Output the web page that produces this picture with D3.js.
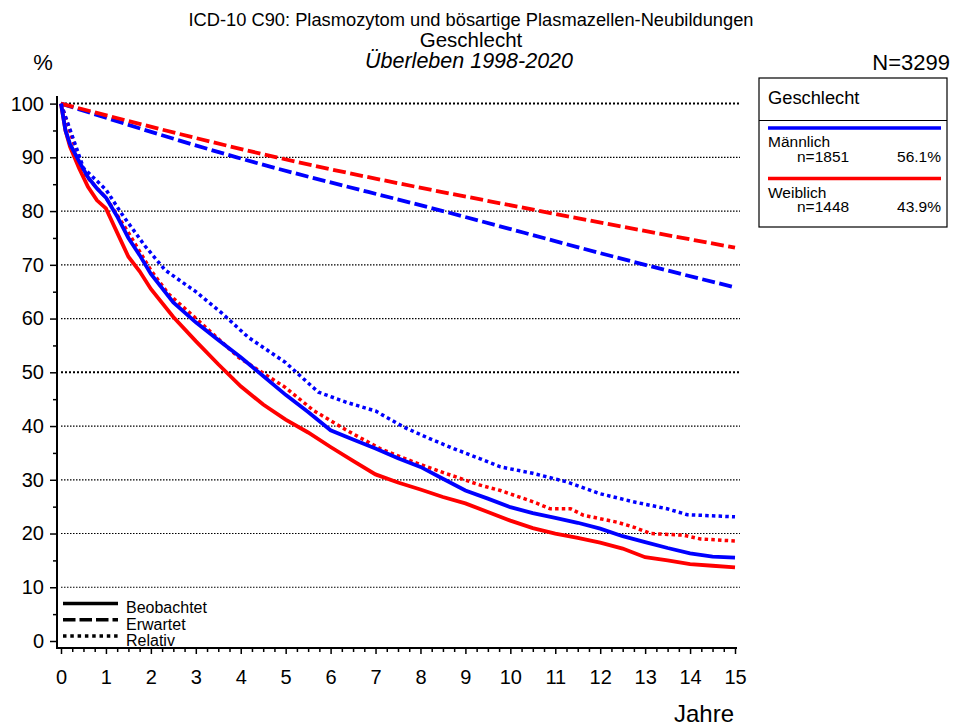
<!DOCTYPE html>
<html>
<head>
<meta charset="utf-8">
<script src="https://cdn.jsdelivr.net/npm/d3@7"></script>
<style>
  body { margin: 0; background: #fff; }
  svg { font-family: "Liberation Sans", Arial, sans-serif; }
</style>
</head>
<body>
<div id="chart"></div>
<script>
// data (years, percent)
var maleObserved = [[0,100],[0.1,95],[0.2,92.5],[0.4,89.3],[0.6,86.3],[0.8,84.2],[1,82.5],[1.25,79],[1.5,75],[1.75,71.8],[2,68.3],[2.5,63],[3,59.3],[3.5,56],[4,52.8],[4.5,49.3],[5,45.8],[5.5,42.6],[6,39.2],[6.5,37.5],[7,35.8],[7.5,34],[8,32.4],[8.5,30.2],[9,28],[9.5,26.5],[10,24.9],[10.5,23.8],[11,22.9],[11.5,22],[12,20.9],[12.5,19.5],[13,18.4],[13.5,17.3],[14,16.3],[14.5,15.7],[15,15.5]];
var femaleObserved = [[0,100],[0.1,95],[0.2,92],[0.4,88],[0.6,84.5],[0.8,82],[1,80.5],[1.25,76],[1.5,71.5],[1.75,68.8],[2,65.5],[2.5,60.3],[3,55.8],[3.5,51.5],[4,47.4],[4.5,44],[5,41.2],[5.5,38.8],[6,36.1],[6.5,33.5],[7,31],[7.5,29.5],[8,28.2],[8.5,26.8],[9,25.6],[9.5,24],[10,22.4],[10.5,21],[11,20],[11.5,19.2],[12,18.3],[12.5,17.2],[13,15.6],[13.5,15],[14,14.3],[14.5,14],[15,13.7]];
var maleExpected = [[0,100],[3.91,90],[8.5,80],[13,70],[15,65.8]];
var femaleExpected = [[0,100],[4.8,90],[10.67,80],[15,73.2]];
var maleRelative = [[0,100],[0.5,88],[1,84],[1.35,79.5],[1.87,73.5],[2.32,69],[3,65],[3.58,61],[4.17,56.5],[5,51.8],[5.5,48],[5.73,46.3],[6.36,44.4],[7,42.8],[7.63,39.8],[8.22,37.6],[8.74,35.8],[9.33,33.9],[9.78,32.4],[10.5,31.2],[11.26,29.6],[12,27.4],[12.74,25.9],[13.49,24.6],[13.94,23.5],[15,23.1]];
var femaleRelative = [[0,100],[0.5,87],[1,82.5],[1.5,76],[2,69],[2.39,64.6],[2.98,60.2],[3.95,52.8],[4.99,47.2],[5.62,42.9],[6.36,39.2],[7.1,35.8],[7.85,33.3],[8.59,31.1],[9.33,29],[9.78,28],[10.51,25.9],[10.89,24.6],[11.34,24.6],[11.63,23.4],[12.38,22.1],[12.74,21.2],[13.12,20],[13.85,19.7],[14.23,19],[15,18.6]];

var groups = ["Männlich", "Weiblich"];
var groupN = ["n=1851", "n=1448"];
var groupPct = ["56.1%", "43.9%"];
var xTicks = d3.range(0, 16);
var yTicks = [0, 10, 20, 30, 40, 50, 60, 70, 80, 90, 100];
var gridTicks = [10, 20, 30, 40, 50, 60, 70, 80, 90, 100];
var lineTypes = ["Beobachtet", "Erwartet", "Relativ"];

var color = d3.scaleOrdinal().domain(groups).range(["#0000ff", "#ff0000"]);
var dashes = {solid: null, dashed: "13,4.5", dotted: "3.5,3.2"};

var svg = d3.select("#chart").append("svg").attr("width", 953).attr("height", 728);

var x = d3.scaleLinear().domain([0, 15]).range([61, 735]);
var y = d3.scaleLinear().domain([0, 100]).range([641, 103.6]);

// titles
svg.append("text").attr("x", 471).attr("y", 26).attr("text-anchor", "middle")
  .style("font-size", "18.3px").text("ICD-10 C90: Plasmozytom und bösartige Plasmazellen-Neubildungen");
svg.append("text").attr("x", 471).attr("y", 47).attr("text-anchor", "middle")
  .style("font-size", "20.5px").text("Geschlecht");
svg.append("text").attr("x", 469).attr("y", 68).attr("text-anchor", "middle")
  .style("font-size", "21.5px").style("font-style", "italic").text("Überleben 1998-2020");
svg.append("text").attr("x", 43).attr("y", 70).attr("text-anchor", "middle")
  .style("font-size", "22px").text("%");
svg.append("text").attr("x", 950).attr("y", 70).attr("text-anchor", "end")
  .style("font-size", "22px").text("N=3299");

// grid
svg.selectAll("line.grid").data(gridTicks).enter().append("line")
  .attr("class", "grid")
  .attr("x1", x(0)).attr("x2", 740)
  .attr("y1", function(d) { return y(d); }).attr("y2", function(d) { return y(d); })
  .attr("stroke", "#000")
  .attr("stroke-width", function(d) { return (d === 50 || d === 100) ? 2 : 1.2; })
  .attr("stroke-dasharray", function(d) { return (d === 50 || d === 100) ? "2,2" : "1.5,1.5"; });

// y axis
var yAxisG = svg.append("g").attr("transform", "translate(57,0)")
  .call(d3.axisLeft(y).tickValues(yTicks).tickSize(7).tickSizeOuter(0).tickPadding(6));
yAxisG.select(".domain").remove();
yAxisG.selectAll("text").style("font-size", "20px").attr("fill", "#000");
yAxisG.selectAll("line").attr("stroke-width", 1.5);
svg.append("g").attr("transform", "translate(57,0)")
  .call(d3.axisLeft(y).tickValues(d3.range(5, 100, 10)).tickSize(4).tickFormat(""))
  .call(function(g) { g.select(".domain").remove(); })
  .selectAll("line").attr("stroke-width", 1.5);
svg.append("line").attr("x1", 57).attr("x2", 57).attr("y1", 96).attr("y2", 649)
  .attr("stroke", "#000").attr("stroke-width", 2);

// x axis
var xAxisG = svg.append("g").attr("transform", "translate(0,648)")
  .call(d3.axisBottom(x).tickValues(xTicks).tickSize(6).tickSizeOuter(0).tickPadding(16));
xAxisG.select(".domain").remove();
xAxisG.selectAll("text").style("font-size", "20px").attr("fill", "#000");
xAxisG.selectAll("line").attr("stroke-width", 1.5);
svg.append("g").attr("transform", "translate(0,648)")
  .call(d3.axisBottom(x).tickValues(d3.range(0.25, 15, 0.25).filter(function(d) { return d % 1 !== 0; })).tickSize(4).tickFormat(""))
  .call(function(g) { g.select(".domain").remove(); })
  .selectAll("line").attr("stroke-width", 1.5);
svg.append("line").attr("x1", 56).attr("x2", 737).attr("y1", 648).attr("y2", 648)
  .attr("stroke", "#000").attr("stroke-width", 2);
svg.append("text").attr("x", 704).attr("y", 722).attr("text-anchor", "middle")
  .style("font-size", "24px").text("Jahre");

// curves
var line = d3.line().x(function(d) { return x(d[0]); }).y(function(d) { return y(d[1]); });
var smooth = d3.line().curve(d3.curveMonotoneX).x(function(d) { return x(d[0]); }).y(function(d) { return y(d[1]); });
var series = [
  {key: "Männlich", type: "dashed", values: maleExpected},
  {key: "Weiblich", type: "dashed", values: femaleExpected},
  {key: "Weiblich", type: "dotted", values: femaleRelative},
  {key: "Männlich", type: "dotted", values: maleRelative},
  {key: "Weiblich", type: "solid", values: femaleObserved},
  {key: "Männlich", type: "solid", values: maleObserved}
];
svg.selectAll("path.curve").data(series).enter().append("path")
  .attr("class", "curve")
  .attr("d", function(d) { return d.type === "dashed" ? smooth(d.values) : line(d.values); })
  .attr("fill", "none")
  .attr("stroke", function(d) { return color(d.key); })
  .attr("stroke-width", function(d) { return d.type === "dotted" ? 3.5 : 3.8; })
  .attr("stroke-dasharray", function(d) { return dashes[d.type]; });

// legend box
var box = svg.append("g").attr("transform", "translate(759,78)");
box.append("rect").attr("width", 188).attr("height", 149)
  .attr("fill", "#fff").attr("stroke", "#000").attr("stroke-width", 1.2);
box.append("line").attr("x1", 0).attr("x2", 188).attr("y1", 42.5).attr("y2", 42.5)
  .attr("stroke", "#000").attr("stroke-width", 1.2);
box.append("text").attr("x", 9).attr("y", 26).style("font-size", "18.3px").text("Geschlecht");
var items = box.selectAll("g.item").data(groups).enter().append("g")
  .attr("class", "item")
  .attr("transform", function(d, i) { return "translate(0," + (50 + i * 50.5) + ")"; });
items.append("line").attr("x1", 9).attr("x2", 182).attr("y1", 0).attr("y2", 0)
  .attr("stroke", function(d) { return color(d); }).attr("stroke-width", 3.5);
items.append("text").attr("x", 9).attr("y", 19).style("font-size", "15.5px").text(function(d) { return d; });
items.append("text").attr("x", 38).attr("y", 33.5).style("font-size", "15.5px").text(function(d, i) { return groupN[i]; });
items.append("text").attr("x", 182).attr("y", 33.5).attr("text-anchor", "end").style("font-size", "15.5px").text(function(d, i) { return groupPct[i]; });

// line type legend
var lt = svg.append("g").attr("transform", "translate(63,603.5)");
var ltItems = lt.selectAll("g").data(lineTypes).enter().append("g")
  .attr("transform", function(d, i) { return "translate(0," + (i * 16.3) + ")"; });
ltItems.append("line").attr("x1", 0).attr("x2", 55).attr("y1", 0).attr("y2", 0)
  .attr("stroke", "#000").attr("stroke-width", 3.5)
  .attr("stroke-dasharray", function(d, i) { return [null, "12.5,4", "3.5,3.8"][i]; });
ltItems.append("text").attr("x", 63).attr("y", 9.8).style("font-size", "16px").text(function(d) { return d; });
</script>
</body>
</html>
